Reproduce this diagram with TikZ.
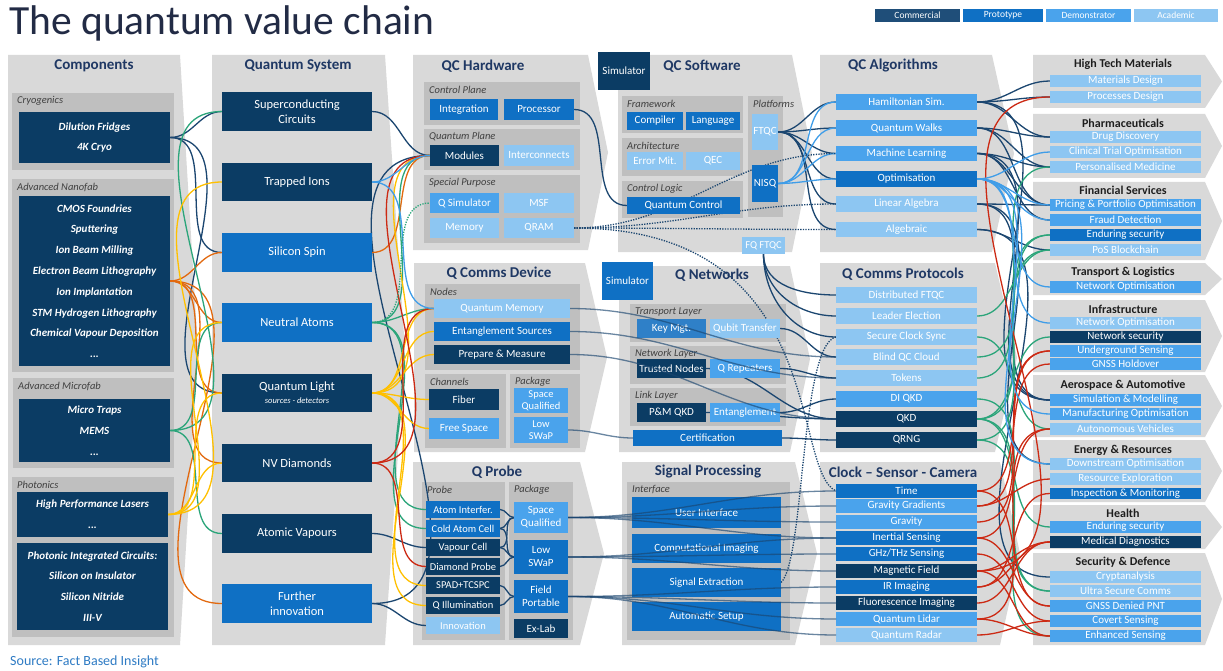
\documentclass[tikz,border=0pt]{standalone}
\usepackage{fontspec}
\setmainfont{Carlito}
\pgfdeclarelayer{bg}
\pgfdeclarelayer{lines}
\pgfsetlayers{bg,lines,main}
\definecolor{cdark}{HTML}{0B3C64}
\definecolor{cproto}{HTML}{0F70C4}
\definecolor{cdemo}{HTML}{4AA3EC}
\definecolor{cacad}{HTML}{8DC6F2}
\definecolor{cpanel}{HTML}{D9D9D9}
\definecolor{csub}{HTML}{BFBFBF}
\definecolor{ctitle}{HTML}{1F3864}
\definecolor{clabel}{HTML}{404040}
\definecolor{cind}{HTML}{1E1E1E}
\definecolor{lnavy}{HTML}{1B4670}
\definecolor{lteal}{HTML}{2BA57A}
\definecolor{lorange}{HTML}{E2690F}
\definecolor{lyellow}{HTML}{FFC000}
\definecolor{lred}{HTML}{CC2A14}
\definecolor{lblue}{HTML}{3F9DE8}
\definecolor{ctitletext}{HTML}{222B45}
\definecolor{csrc}{HTML}{2E7BC4}
\definecolor{legc}{HTML}{1F4E79}
\definecolor{ckm}{HTML}{2F80C8}
\tikzset{
  bx/.style={inner sep=0pt, outer sep=0pt, text=white, align=center, font=\fontsize{11}{12}\selectfont},
  dk/.style={bx, fill=cdark},
  pr/.style={bx, fill=cproto},
  dm/.style={bx, fill=cdemo},
  ac/.style={bx, fill=cacad},
  big/.style={font=\fontsize{12.5}{15}\selectfont},
  mid/.style={font=\fontsize{11}{13}\selectfont},
  cmp/.style={dk, font=\fontsize{11}{20.8}\selectfont\bfseries\itshape},
  ptitle/.style={inner sep=0pt, font=\fontsize{15}{17}\selectfont\bfseries, text=ctitle},
  ititle/.style={inner sep=0pt, font=\fontsize{12}{14}\selectfont\bfseries, text=cind},
  slabel/.style={inner sep=0pt, anchor=west, font=\fontsize{10.5}{12}\selectfont\itshape, text=clabel},
  cl/.style={line width=1.3pt},
  navyl/.style={cl, draw=lnavy},
  tealw/.style={cl, draw=lteal},
  orng/.style={cl, draw=lorange},
  yel/.style={cl, draw=lyellow},
  redl/.style={cl, draw=lred},
  lbl/.style={cl, draw=lblue},
  dotn/.style={line width=1.3pt, draw=lnavy, dash pattern=on 1.3pt off 1.3pt},
  dott/.style={line width=1.3pt, draw=lteal, dash pattern=on 1.3pt off 1.3pt},
  thru/.style={line width=1.3pt, draw=lnavy, draw opacity=0.65},
}
\newcommand\mybox[7]{\node[#1, minimum width={#4-#2}, minimum height={#5-#3}] (#6) at ({(#2+#4)/2},{(#3+#5)/2}) {#7};}
\newcommand\pnl[5]{\fill[cpanel] (#1,#2) -- (#3,#2) -- ({#3+#5},{(#2+#4)/2}) -- (#3,#4) -- (#1,#4) -- cycle;}
\newcommand\spnl[5]{\fill[csub] (#1,#2) rectangle (#3,#4); \node[slabel] at (#1+5,#2+8) {#5};}
\begin{document}
\begin{tikzpicture}[x=1pt,y=-1pt]
\useasboundingbox (0,0) rectangle (1223,671);
\begin{pgfonlayer}{bg}
\fill[white] (0,0) rectangle (1223,671);
% column panels
\pnl{8}{55}{180}{645}{18}
\pnl{212}{55}{385}{645}{20}
\pnl{413}{55}{588}{250}{20}
\pnl{618}{55}{792}{252}{20}
\pnl{820}{55}{992}{252}{22}
\pnl{414}{263}{585}{452}{22}
\pnl{619}{266}{790}{452}{20}
\pnl{820}{263}{995}{452}{22}
\pnl{413}{462}{580}{645}{24}
\pnl{622}{462}{795}{645}{22}
\pnl{820}{462}{1000}{645}{20}
% industry panels
\pnl{1033}{55}{1205}{108}{17}
\pnl{1033}{114}{1205}{178}{17}
\pnl{1033}{182}{1205}{260}{17}
\pnl{1033}{263}{1205}{295}{17}
\pnl{1033}{300}{1205}{372}{17}
\pnl{1033}{375}{1205}{437}{17}
\pnl{1033}{440}{1205}{502}{17}
\pnl{1033}{505}{1205}{549}{17}
\pnl{1033}{553}{1205}{645}{17}
% sub panels
\spnl{12}{93}{174}{170}{Cryogenics}
\spnl{12}{179}{174}{372}{Advanced Nanofab}
\spnl{13}{378}{174}{468}{Advanced Microfab}
\spnl{12}{477}{174}{637}{Photonics}
\spnl{424}{82}{580}{125}{Control Plane}
\spnl{424}{129}{580}{170}{Quantum Plane}
\spnl{424}{175}{580}{243}{Special Purpose}
\spnl{622}{96}{743}{133}{Framework}
\spnl{622}{138}{743}{176}{Architecture}
\spnl{622}{181}{743}{218}{Control Logic}
\spnl{748}{96}{783}{217}{Platforms}
\spnl{425}{284}{580}{370}{Nodes}
\spnl{425}{374}{506}{448}{Channels}
\spnl{510}{374}{580}{448}{Package}
\spnl{630}{304}{786}{342}{Transport Layer}
\spnl{630}{346}{786}{384}{Network Layer}
\spnl{630}{388}{786}{426}{Link Layer}
\spnl{422}{482}{505}{640}{Probe}
\spnl{509}{482}{573}{640}{Package}
\spnl{627}{482}{790}{640}{Interface}
\end{pgfonlayer}
% title, legend, source
\node[anchor=base west, inner sep=0pt, font=\fontsize{41.5}{44}\selectfont, text=ctitletext] (title) at (9,35) {The quantum value chain};
\mybox{bx,fill=legc,font=\fontsize{9.5}{11}\selectfont}{875}{9}{960}{22}{lgc}{Commercial}
\mybox{pr,font=\fontsize{9.5}{11}\selectfont}{963}{9}{1043}{22}{lgp}{Prototype}
\mybox{dm,font=\fontsize{9.5}{11}\selectfont}{1046}{9}{1131}{22}{lgd}{Demonstrator}
\mybox{ac,font=\fontsize{9.5}{11}\selectfont}{1134}{9}{1218}{22}{lga}{Academic}
\node[anchor=west, inner sep=0pt, font=\fontsize{14}{16}\selectfont, text=csrc] (src) at (10,662) {Source: Fact Based Insight};
% panel titles
\node[ptitle] (tcomp) at (94,66) {Components};
\node[ptitle] (tqs) at (298,66) {Quantum System};
\node[ptitle] (thw) at (483,66) {QC Hardware};
\node[ptitle] (tsw) at (702,66) {QC Software};
\node[ptitle] (talg) at (893,66) {QC Algorithms};
\node[ptitle] (tcd) at (499,273) {Q Comms Device};
\node[ptitle] (tnet) at (712,275) {Q Networks};
\node[ptitle] (tcp) at (903,274) {Q Comms Protocols};
\node[ptitle] (tqp) at (497,472) {Q Probe};
\node[ptitle] (tsp) at (708,472) {Signal Processing};
\node[ptitle] (tcsc) at (903,472) {Clock -- Sensor - Camera};
% components
\mybox{cmp}{19}{112}{170}{163}{cryo}{Dilution Fridges\\4K Cryo}
\mybox{cmp}{19}{196}{170}{366}{nano}{CMOS Foundries\\Sputtering\\Ion Beam Milling\\Electron Beam Lithography\\Ion Implantation\\STM Hydrogen Lithography\\Chemical Vapour Deposition\\...}
\mybox{cmp}{19}{399}{170}{462}{micro}{Micro Traps\\MEMS\\...}
\mybox{cmp}{17}{492}{168}{537}{lasers}{High Performance Lasers\\...}
\mybox{cmp}{17}{543}{168}{630}{pic}{Photonic Integrated Circuits:\\Silicon on Insulator\\Silicon Nitride\\III-V}
% quantum system
\mybox{dk,big}{222}{92}{372}{131}{sc}{Superconducting\\Circuits}
\mybox{dk,big}{222}{163}{372}{201}{ti}{Trapped Ions}
\mybox{pr,big}{222}{233}{372}{272}{ss}{Silicon Spin}
\mybox{pr,big}{222}{303}{372}{342}{na}{Neutral Atoms}
\mybox{dk,big}{222}{374}{372}{412}{ql}{Quantum Light\\[-2pt]{\fontsize{8.5}{9}\selectfont\itshape sources - detectors}}
\mybox{dk,big}{222}{444}{372}{482}{nv}{NV Diamonds}
\mybox{dk,big}{222}{514}{372}{553}{av}{Atomic Vapours}
\mybox{pr,big}{222}{584}{372}{623}{fi}{Further\\innovation}
% QC hardware
\mybox{pr,mid}{430}{99}{498}{120}{integ}{Integration}
\mybox{pr,mid}{504}{99}{574}{120}{proc}{Processor}
\mybox{dk,mid}{430}{145}{499}{166}{mod}{Modules}
\mybox{ac,mid}{504}{145}{574}{166}{intc}{Interconnects}
\mybox{dm,mid}{430}{193}{499}{213}{qsim}{Q Simulator}
\mybox{ac,mid}{504}{193}{574}{213}{msf}{MSF}
\mybox{ac,mid}{430}{218}{499}{238}{mem}{Memory}
\mybox{ac,mid}{504}{218}{574}{238}{qram}{QRAM}
% QC software
\mybox{dk,mid}{598}{52}{650}{90}{sim1}{Simulator}
\mybox{pr,mid}{627}{112}{683}{130}{compl}{Compiler}
\mybox{pr,mid}{686}{112}{740}{130}{lang}{Language}
\mybox{ac,mid}{627}{152}{683}{170}{errm}{Error Mit.}
\mybox{ac,mid}{686}{152}{740}{170}{qec}{QEC}
\mybox{pr,mid}{627}{197}{740}{214}{qctl}{Quantum Control}
\mybox{ac,mid}{752}{114}{778}{150}{ftqc}{FTQC}
\mybox{pr,mid}{752}{165}{778}{202}{nisq}{NISQ}
\mybox{ac,font=\fontsize{10.5}{12}\selectfont}{742}{237}{785}{254}{fqf}{FQ FTQC}
% QC algorithms
\mybox{dm}{836}{94}{977}{110}{ham}{Hamiltonian Sim.}
\mybox{dm}{836}{120}{977}{136}{qw}{Quantum Walks}
\mybox{dm}{836}{146}{977}{161}{ml}{Machine Learning}
\mybox{pr}{836}{171}{977}{187}{opt}{Optimisation}
\mybox{ac}{836}{196}{977}{212}{la}{Linear Algebra}
\mybox{ac}{836}{222}{977}{237}{alg}{Algebraic}
% Q comms device
\mybox{ac,mid}{434}{299}{570}{318}{qmem}{Quantum Memory}
\mybox{pr,mid}{434}{322}{570}{341}{es}{Entanglement Sources}
\mybox{dk,mid}{434}{345}{570}{364}{pm}{Prepare \& Measure}
\mybox{dk,mid}{429}{389}{499}{410}{fib}{Fiber}
\mybox{dm,mid}{429}{418}{499}{439}{fsp}{Free Space}
\mybox{dm,font=\fontsize{10.5}{12}\selectfont}{514}{388}{568}{413}{sq1}{Space\\Qualified}
\mybox{dm,font=\fontsize{10.5}{12}\selectfont}{514}{417}{568}{443}{lsw1}{Low\\SWaP}
% Q networks
\mybox{pr,mid}{602}{262}{653}{300}{sim2}{Simulator}
\mybox{bx,fill=ckm,mid}{637}{319}{706}{338}{km}{Key Mgt.}
\mybox{ac,mid}{710}{319}{780}{338}{qt}{Qubit Transfer}
\mybox{dk,mid}{637}{359}{706}{378}{tn}{Trusted Nodes}
\mybox{dm,mid}{710}{359}{780}{378}{qrep}{Q Repeaters}
\mybox{dk,mid}{637}{403}{706}{422}{pmq}{P\&M QKD}
\mybox{dm,mid}{710}{403}{780}{422}{ent}{Entanglement}
\mybox{pr,mid}{633}{430}{782}{446}{cert}{Certification}
% Q comms protocols
\mybox{ac}{836}{287}{977}{303}{dfq}{Distributed FTQC}
\mybox{ac}{836}{308}{977}{324}{le}{Leader Election}
\mybox{ac}{836}{329}{977}{345}{scs}{Secure Clock Sync}
\mybox{ac}{836}{349}{977}{365}{bqc}{Blind QC Cloud}
\mybox{ac}{836}{370}{977}{386}{tok}{Tokens}
\mybox{dm}{836}{391}{977}{407}{diqkd}{DI QKD}
\mybox{dk}{836}{411}{977}{427}{qkd}{QKD}
\mybox{dk}{836}{432}{977}{448}{qrng}{QRNG}
% Q probe
\mybox{pr,font=\fontsize{10.5}{12}\selectfont}{426}{501}{500}{518}{ai}{Atom Interfer.}
\mybox{pr,font=\fontsize{10.5}{12}\selectfont}{426}{520}{500}{537}{cac}{Cold Atom Cell}
\mybox{dk,font=\fontsize{10.5}{12}\selectfont}{426}{539}{500}{556}{vc}{Vapour Cell}
\mybox{dk,font=\fontsize{10.5}{12}\selectfont}{426}{558}{500}{575}{dp}{Diamond Probe}
\mybox{dk,font=\fontsize{10.5}{12}\selectfont}{426}{577}{500}{594}{spad}{SPAD+TCSPC}
\mybox{dk,font=\fontsize{10.5}{12}\selectfont}{426}{597}{500}{614}{qill}{Q Illumination}
\mybox{ac,font=\fontsize{10.5}{12}\selectfont}{426}{617}{500}{634}{inno}{Innovation}
\mybox{dm,mid}{514}{502}{568}{533}{sq2}{Space\\Qualified}
\mybox{pr,mid}{514}{540}{568}{574}{lsw2}{Low\\SWaP}
\mybox{pr,mid}{514}{580}{568}{613}{fp}{Field\\Portable}
\mybox{dk,mid}{514}{619}{568}{638}{exl}{Ex-Lab}
% signal processing
\mybox{pr,mid}{632}{497}{781}{528}{ui}{User Interface}
\mybox{pr,mid}{632}{534}{781}{563}{ci}{Computational Imaging}
\mybox{pr,mid}{632}{568}{781}{597}{se}{Signal Extraction}
\mybox{pr,mid}{632}{602}{781}{631}{aset}{Automatic Setup}
% clock sensor camera
\mybox{pr}{836}{484}{977}{498}{time}{Time}
\mybox{dm}{836}{499}{977}{513}{gg}{Gravity Gradients}
\mybox{dm}{836}{515}{977}{529}{grav}{Gravity}
\mybox{pr}{836}{531}{977}{545}{inert}{Inertial Sensing}
\mybox{pr}{836}{547}{977}{561}{ghz}{GHz/THz Sensing}
\mybox{dk}{836}{564}{977}{578}{mag}{Magnetic Field}
\mybox{pr}{836}{580}{977}{594}{ir}{IR Imaging}
\mybox{dk}{836}{596}{977}{610}{fluor}{Fluorescence Imaging}
\mybox{dm}{836}{612}{977}{626}{lidar}{Quantum Lidar}
\mybox{ac}{836}{628}{977}{642}{radar}{Quantum Radar}
% industries
\node[ititle] (ihtm) at (1123,64) {High Tech Materials};
\mybox{ac}{1050}{75}{1201}{87}{matd}{Materials Design}
\mybox{ac}{1050}{91}{1201}{103}{procd}{Processes Design}
\node[ititle] (iph) at (1123,123) {Pharmaceuticals};
\mybox{ac}{1050}{131}{1201}{143}{drug}{Drug Discovery}
\mybox{ac}{1050}{146}{1201}{158}{clin}{Clinical Trial Optimisation}
\mybox{ac}{1050}{161}{1201}{173}{pers}{Personalised Medicine}
\node[ititle] (ifin) at (1123,190) {Financial Services};
\mybox{dm}{1050}{199}{1201}{211}{pric}{Pricing \& Portfolio Optimisation}
\mybox{dm}{1050}{214}{1201}{226}{fraud}{Fraud Detection}
\mybox{pr}{1050}{229}{1201}{241}{endf}{Enduring security}
\mybox{ac}{1050}{244}{1201}{256}{pos}{PoS Blockchain}
\node[ititle] (itr) at (1123,272) {Transport \& Logistics};
\mybox{dm}{1050}{281}{1201}{293}{nopta}{Network Optimisation}
\node[ititle] (iinf) at (1123,309) {Infrastructure};
\mybox{ac}{1050}{317}{1201}{329}{noptb}{Network Optimisation}
\mybox{dk}{1050}{331}{1201}{343}{nsec}{Network security}
\mybox{dm}{1050}{345}{1201}{357}{ugs}{Underground Sensing}
\mybox{dm}{1050}{358}{1201}{370}{gnssh}{GNSS Holdover}
\node[ititle] (iaer) at (1123,385) {Aerospace \& Automotive};
\mybox{dm}{1050}{394}{1201}{406}{simm}{Simulation \& Modelling}
\mybox{dm}{1050}{408}{1201}{420}{manu}{Manufacturing Optimisation}
\mybox{ac}{1050}{423}{1201}{435}{auto}{Autonomous Vehicles}
\node[ititle] (ien) at (1123,450) {Energy \& Resources};
\mybox{ac}{1050}{458}{1201}{470}{down}{Downstream Optimisation}
\mybox{ac}{1050}{473}{1201}{485}{resx}{Resource Exploration}
\mybox{pr}{1050}{488}{1201}{499}{insp}{Inspection \& Monitoring}
\node[ititle] (ihe) at (1123,513) {Health};
\mybox{dm}{1050}{521}{1201}{533}{endh}{Enduring security}
\mybox{dk}{1050}{536}{1201}{548}{medd}{Medical Diagnostics}
\node[ititle] (isd) at (1123,562) {Security \& Defence};
\mybox{ac}{1050}{571}{1201}{583}{crypt}{Cryptanalysis}
\mybox{ac}{1050}{585}{1201}{597}{usc}{Ultra Secure Comms}
\mybox{dm}{1050}{600}{1201}{612}{gdp}{GNSS Denied PNT}
\mybox{dm}{1050}{615}{1201}{627}{cov}{Covert Sensing}
\mybox{dm}{1050}{630}{1201}{642}{enh}{Enhanced Sensing}
% connectors
\begin{pgfonlayer}{lines}
\foreach \p/\q in {cryo/sc,cryo/ss,cryo/ql,sc/mod,fi/mod,av/vc,fi/inno,proc/qctl,
  ftqc/ham,ftqc/qw,ftqc/ml,ftqc/opt,ftqc/la,ftqc/alg,
  ham/matd,ham/procd,ham/drug,ham/simm,qw/drug,qw/pric,qw/pers,ml/pers,ml/fraud,ml/pric,ml/simm,
  la/pric,la/simm,la/down,alg/crypt,alg/pos,
  qt/bqc,qrep/tok,ent/diqkd,tn/qkd,pmq/qkd,cert/qrng,
  ai/sq2,cac/sq2,cac/lsw2,vc/sq2,vc/lsw2,dp/lsw2,spad/fp,qill/fp}
  \draw[navyl] (\p.east) to[out=0,in=180] (\q.west);
\foreach \p/\q in {nano/ss,nano/ql,nano/nv,nano/fi,nano/na,ss/mod}
  \draw[orng] (\p.east) to[out=0,in=180] (\q.west);
\foreach \p/\q in {micro/sc,micro/na,micro/av,na/mod,na/qmem,na/ai,na/cac,
  le/pos,scs/auto,bqc/pers,tok/endf,diqkd/usc,qkd/endf,qkd/nsec,qkd/endh,qkd/usc,qrng/pos,qrng/enh}
  \draw[tealw] (\p.east) to[out=0,in=180] (\q.west);
\foreach \p/\q in {lasers/ti,lasers/na,lasers/ql,lasers/nv,
  ql/mod,ql/qmem,ql/es,ql/pm,ql/fib,ql/fsp,ql/spad,ql/qill}
  \draw[yel] (\p.east) to[out=0,in=180] (\q.west);
\foreach \p/\q in {nv/mod,nv/qmem,nv/dp,
  time/gnssh,time/gdp,gg/resx,gg/ugs,grav/ugs,inert/gdp,inert/auto,ghz/cov,mag/medd,mag/enh,mag/procd,
  ir/insp,ir/medd,fluor/medd,lidar/auto,lidar/enh,radar/cov}
  \draw[redl] (\p.east) to[out=0,in=180] (\q.west);
\foreach \p/\q in {ti/mod,ti/qmem,nisq/ham,nisq/qw,nisq/ml,nisq/opt,
  opt/clin,opt/pric,opt/nopta,opt/noptb,opt/manu,opt/down,opt/fraud}
  \draw[lbl] (\p.east) to[out=0,in=180] (\q.west);
\draw[dott] (na.east) to[out=0,in=180] (qsim.west);
\foreach \q in {dfq,le,scs}
  \draw[navyl] (fqf.south) to[out=-90,in=180] (\q.west);
\foreach \q in {ml,la,alg}
  \draw[dotn] (qram.east) to[out=0,in=180] (\q.west);
\draw[dotn] (qram.east) .. controls (830,228) and (790,470) .. (time.west);
\draw[dotn] (scs.west) .. controls (800,345) and (805,560) .. (se.east);
\end{pgfonlayer}
% lines drawn through boxes
\foreach \p/\q in {qmem/bqc,es/tok,pm/qkd,lsw1/cert,
  sq2/time,sq2/gg,sq2/grav,sq2/inert,lsw2/mag,lsw2/ghz,lsw2/inert,fp/ir,fp/lidar,fp/radar,fp/fluor}
  \draw[thru] (\p.east) to[out=0,in=180] (\q.west);
\end{tikzpicture}
\end{document}
